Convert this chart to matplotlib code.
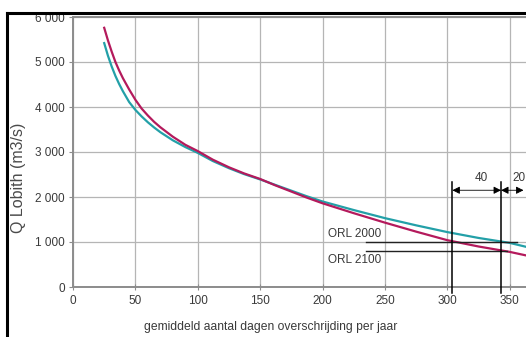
import numpy as np
import matplotlib.pyplot as plt
from matplotlib.lines import Line2D

plt.rcParams['font.family'] = ['Liberation Sans', 'DejaVu Sans']

# days of exceedance per year
dagen = [25, 28, 31, 34, 37, 40, 45, 50, 55, 60, 65, 70, 80, 90, 100, 112, 125, 137,
         150, 162, 175, 187, 200, 225, 250, 275, 300, 325, 350, 365]
# discharge curves (m3/s)
q_rood = [5760, 5480, 5230, 5000, 4810, 4640, 4390, 4160, 3965, 3810, 3670, 3550, 3340, 3160,
          3020, 2830, 2660, 2525, 2400, 2260, 2120, 1990, 1860, 1640, 1430, 1230, 1040, 900, 780, 690]
q_blauw = [5420, 5140, 4900, 4690, 4510, 4350, 4110, 3935, 3790, 3660, 3545, 3440, 3260, 3110,
           2980, 2800, 2640, 2510, 2390, 2270, 2140, 2020, 1900, 1710, 1530, 1370, 1220, 1090, 980, 880]

x_ticks = [0, 50, 100, 150, 200, 250, 300, 350]
y_ticks = [0, 1000, 2000, 3000, 4000, 5000, 6000]
y_labels = ['0', '1 000', '2 000', '3 000', '4 000', '5 000', '6 000']

orl_niveau = {'ORL 2000': 1000, 'ORL 2100': 800}
vert_x = [304, 343]
dim_labels = ['40', '20']

fig = plt.figure(figsize=(5.26, 3.37), dpi=100)
ax = fig.add_axes([73/526, 1-287/337, 1-73/526, (287-17)/337])

gray = '#8c8c8c'
txt = '#3a3a3a'

ax.plot(dagen, q_blauw, color='#23a0a8', lw=1.6, zorder=3)
ax.plot(dagen, q_rood, color='#b41a5c', lw=1.6, zorder=3)

ax.set_xlim(0, 363)
ax.set_ylim(0, 6000)
ax.set_xticks(x_ticks)
ax.set_yticks(y_ticks)
ax.set_yticklabels(y_labels)
ax.grid(True, color='#b5b5b5', lw=0.9)
ax.set_axisbelow(True)
for s in ['left', 'bottom', 'top']:
    ax.spines[s].set_color(gray)
    ax.spines[s].set_linewidth(1.4)
ax.spines['right'].set_visible(False)
ax.tick_params(axis='x', direction='inout', length=4, color=gray, labelsize=8.5,
               labelcolor=txt, pad=4)
ax.tick_params(axis='y', direction='out', length=3, color=gray, labelsize=8.5,
               labelcolor=txt, pad=3)

# ORL levels
ax.plot([235, 356], [orl_niveau['ORL 2000']] * 2, color='#222222', lw=1.0, zorder=4)
ax.plot([235, 348], [orl_niveau['ORL 2100']] * 2, color='#222222', lw=1.0, zorder=4)
ax.text(204, 1180, 'ORL 2000', fontsize=8.5, color=txt, va='center', ha='left')
ax.text(204, 600, 'ORL 2100', fontsize=8.5, color=txt, va='center', ha='left')

# vertical markers
for xv in vert_x:
    ax.plot([xv, xv], [-130, 2330], color='black', lw=1.1, clip_on=False, zorder=5)

# dimension arrows
dim_y = 2150
for (x0, x1), lab in zip([(304, 343), (343, 361)], dim_labels):
    ax.annotate('', xy=(x0, dim_y), xytext=(x1, dim_y),
                arrowprops=dict(arrowstyle='<|-|>', color='black', lw=0.6,
                                mutation_scale=11, shrinkA=0, shrinkB=0))
ax.text(327, 2430, dim_labels[0], fontsize=8.5, color=txt, ha='center', va='center')
ax.text(357, 2430, dim_labels[1], fontsize=8.5, color=txt, ha='center', va='center')

fig.text(271/526, 1-327/337, 'gemiddeld aantal dagen overschrijding per jaar',
         fontsize=8.7, color=txt, ha='center', va='center')
fig.text(19/526, 1-178/337, 'Q Lobith (m3/s)', fontsize=11.5, color='#4a4a4a',
         rotation=90, ha='center', va='center')

# outer frame (top and left)
fig.add_artist(Line2D([7/526, 1], [1-13/337, 1-13/337], color='black', lw=2.2,
                      transform=fig.transFigure, zorder=10))
fig.add_artist(Line2D([7/526, 7/526], [0, 1-13/337], color='black', lw=2.2,
                      transform=fig.transFigure, zorder=10))

fig.savefig('out.png', dpi=100)
